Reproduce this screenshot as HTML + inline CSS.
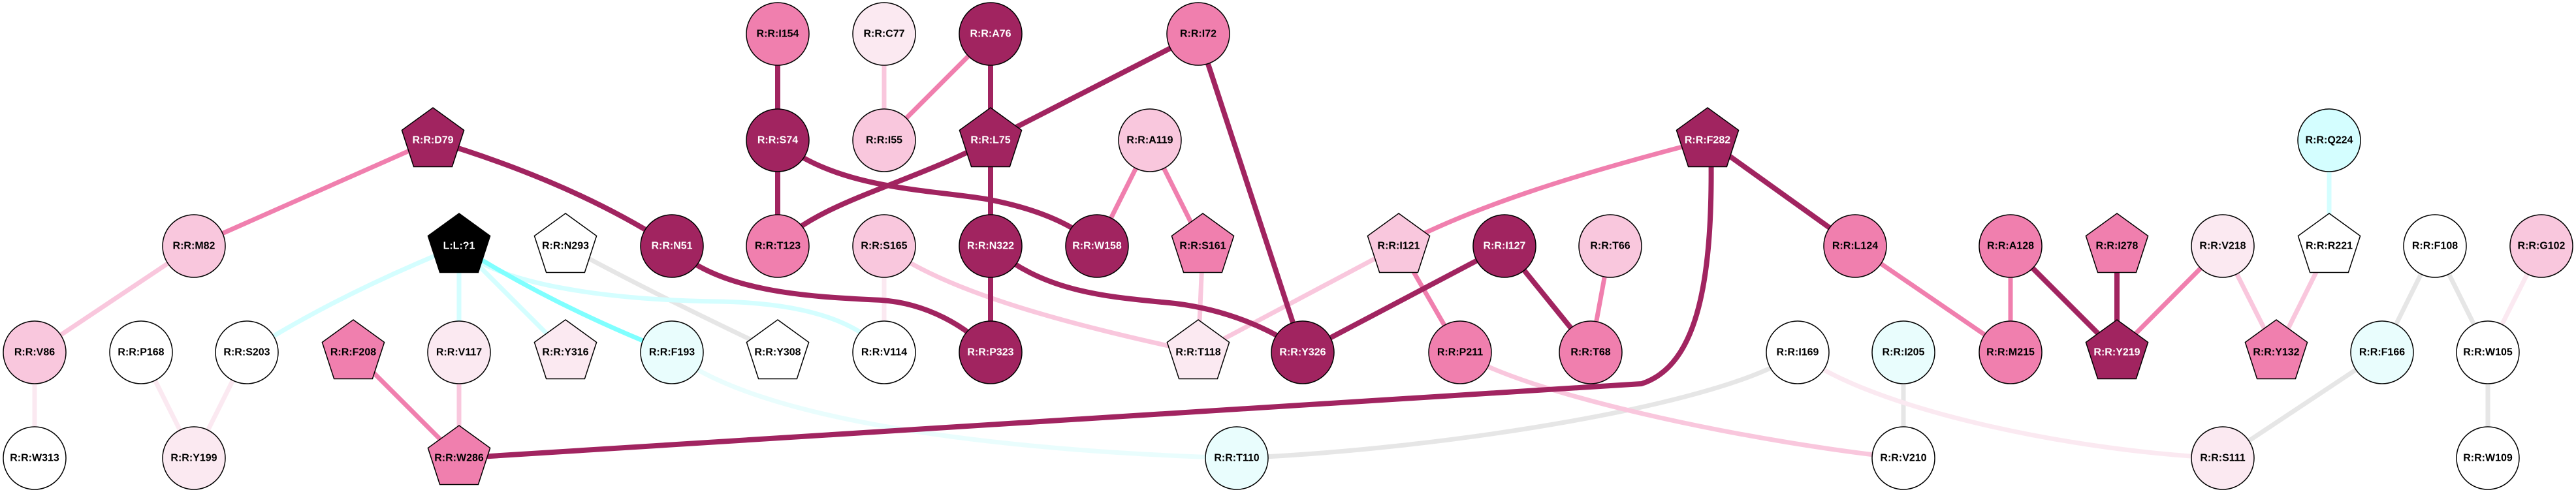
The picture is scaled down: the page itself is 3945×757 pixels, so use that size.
<!DOCTYPE html>
<html><head><meta charset="utf-8"><style>
html,body{margin:0;padding:0;background:#fff;}
svg{display:block;}
text{font-family:"Liberation Sans",Arial,sans-serif;font-weight:bold;font-size:16px;text-anchor:middle;dominant-baseline:central;}
</style></head><body>
<svg width="3945" height="757" viewBox="0 0 3945 757" xmlns="http://www.w3.org/2000/svg">
<g fill="none" stroke-linecap="butt">
<!-- gray -->
<g stroke="#e6e6e6" stroke-width="7">
<path d="M866,377 Q1000,450 1191,540"/>
<path d="M2753,540 C2650,620 2200,690 1894,702"/>
<path d="M2915,540 L2915,702"/>
<path d="M3729,377 L3648,540"/>
<path d="M3729,377 L3810,540"/>
<path d="M3648,540 L3404,702"/>
<path d="M3810,540 L3810,702"/>
</g>
<!-- cyan -->
<g stroke="#d4feff" stroke-width="7">
<path d="M703,377 Q520,450 378,540"/>
<path d="M703,377 L703,540"/>
<path d="M703,377 L866,540"/>
<path d="M703,377 C760,440 950,460 1100,462 Q1290,465 1354,540"/>
<path d="M3567,215 L3567,377"/>
</g>
<path d="M1029,540 C1150,640 1500,690 1894,702" stroke="#e9fdfd" stroke-width="7"/>
<path d="M703,377 Q850,470 1029,540" stroke="#80ffff" stroke-width="7"/>
<!-- very light pink -->
<g stroke="#fbe9f1" stroke-width="7">
<path d="M53,540 L53,702"/>
<path d="M216,540 L297,702"/>
<path d="M378,540 L297,702"/>
<path d="M1354,377 L1354,540"/>
<path d="M2753,540 C2850,620 3150,690 3404,702"/>
<path d="M3892,377 L3810,540"/>
</g>
<!-- light pink -->
<g stroke="#f9c7dd" stroke-width="7">
<path d="M297,377 L53,540"/>
<path d="M703,540 L703,702"/>
<path d="M1354,52 L1354,215"/>
<path d="M1354,377 C1450,450 1650,500 1835,540"/>
<path d="M1842,377 L1835,540"/>
<path d="M1835,540 L2142,377"/>
<path d="M2236,540 C2350,610 2700,680 2915,702"/>
<path d="M3404,377 L3486,540"/>
<path d="M3567,377 L3486,540"/>
</g>
<!-- medium pink -->
<g stroke="#f07fae" stroke-width="7">
<path d="M663,215 L297,377"/>
<path d="M541,540 L703,702"/>
<path d="M1517,52 L1354,215"/>
<path d="M1761,215 L1680,377"/>
<path d="M1761,215 L1842,377"/>
<path d="M2615,215 C2400,270 2250,320 2142,377"/>
<path d="M2142,377 L2236,540"/>
<path d="M2466,377 L2436,540"/>
<path d="M2841,377 L3079,540"/>
<path d="M3079,377 L3079,540"/>
<path d="M3404,377 L3242,540"/>
</g>
<!-- dark -->
<g stroke="#a12460" stroke-width="8">
<path d="M663,215 Q880,280 1029,377"/>
<path d="M703,702 L2514,588 C2600,560 2625,430 2620,215"/>
<path d="M1191,52 L1191,215"/>
<path d="M1517,52 L1517,215"/>
<path d="M1835,52 L1517,215"/>
<path d="M1835,52 L1995,540"/>
<path d="M1191,215 L1191,377"/>
<path d="M1191,215 C1280,290 1420,290 1510,305 C1580,318 1640,340 1680,377"/>
<path d="M1517,215 C1400,280 1250,310 1191,377"/>
<path d="M1517,215 L1517,540"/>
<path d="M1029,377 C1100,450 1250,455 1350,460 C1420,465 1480,500 1517,540"/>
<path d="M1517,377 C1600,450 1700,455 1800,465 C1880,475 1950,505 1995,540"/>
<path d="M2304,377 L1995,540"/>
<path d="M2304,377 L2436,540"/>
<path d="M2615,215 L2841,377"/>
<path d="M3079,377 L3242,540"/>
<path d="M3242,377 L3242,540"/>
</g>
</g>
<!-- nodes -->
<g stroke="#000" stroke-width="1.5">
<!-- circles -->
<circle cx="1191" cy="52" r="48" fill="#f07fae"/>
<circle cx="1354" cy="52" r="48" fill="#fbe9f1"/>
<circle cx="1517" cy="52" r="48" fill="#a12460"/>
<circle cx="1835" cy="52" r="48" fill="#f07fae"/>
<circle cx="1191" cy="215" r="48" fill="#a12460"/>
<circle cx="1354" cy="215" r="48" fill="#f9c7dd"/>
<circle cx="1761" cy="215" r="48" fill="#f9c7dd"/>
<circle cx="3567" cy="215" r="48" fill="#d4feff"/>
<circle cx="297" cy="377" r="48" fill="#f9c7dd"/>
<circle cx="1029" cy="377" r="48" fill="#a12460"/>
<circle cx="1191" cy="377" r="48" fill="#f07fae"/>
<circle cx="1354" cy="377" r="48" fill="#f9c7dd"/>
<circle cx="1517" cy="377" r="48" fill="#a12460"/>
<circle cx="1680" cy="377" r="48" fill="#a12460"/>
<circle cx="2304" cy="377" r="48" fill="#a12460"/>
<circle cx="2466" cy="377" r="48" fill="#f9c7dd"/>
<circle cx="2841" cy="377" r="48" fill="#f07fae"/>
<circle cx="3079" cy="377" r="48" fill="#f07fae"/>
<circle cx="3404" cy="377" r="48" fill="#fbe9f1"/>
<circle cx="3729" cy="377" r="48" fill="#fff"/>
<circle cx="3892" cy="377" r="48" fill="#f9c7dd"/>
<circle cx="53" cy="540" r="48" fill="#f9c7dd"/>
<circle cx="216" cy="540" r="48" fill="#fff"/>
<circle cx="378" cy="540" r="48" fill="#fff"/>
<circle cx="703" cy="540" r="48" fill="#fbe9f1"/>
<circle cx="1029" cy="540" r="48" fill="#e9fdfd"/>
<circle cx="1354" cy="540" r="48" fill="#fff"/>
<circle cx="1517" cy="540" r="48" fill="#a12460"/>
<circle cx="1995" cy="540" r="48" fill="#a12460"/>
<circle cx="2236" cy="540" r="48" fill="#f07fae"/>
<circle cx="2436" cy="540" r="48" fill="#f07fae"/>
<circle cx="2753" cy="540" r="48" fill="#fff"/>
<circle cx="2915" cy="540" r="48" fill="#e9fdfd"/>
<circle cx="3079" cy="540" r="48" fill="#f07fae"/>
<circle cx="3648" cy="540" r="48" fill="#e9fdfd"/>
<circle cx="3810" cy="540" r="48" fill="#fff"/>
<circle cx="53" cy="702" r="48" fill="#fff"/>
<circle cx="297" cy="702" r="48" fill="#fbe9f1"/>
<circle cx="1894" cy="702" r="48" fill="#e9fdfd"/>
<circle cx="2915" cy="702" r="48" fill="#fff"/>
<circle cx="3404" cy="702" r="48" fill="#fbe9f1"/>
<circle cx="3810" cy="702" r="48" fill="#fff"/>
<!-- pentagons -->
<polygon transform="translate(663,215)" points="0,-50 47.6,-15.5 29.4,40.5 -29.4,40.5 -47.6,-15.5" fill="#a12460"/>
<polygon transform="translate(1517,215)" points="0,-50 47.6,-15.5 29.4,40.5 -29.4,40.5 -47.6,-15.5" fill="#a12460"/>
<polygon transform="translate(2615,215)" points="0,-50 47.6,-15.5 29.4,40.5 -29.4,40.5 -47.6,-15.5" fill="#a12460"/>
<polygon transform="translate(703,377)" points="0,-50 47.6,-15.5 29.4,40.5 -29.4,40.5 -47.6,-15.5" fill="#000"/>
<polygon transform="translate(866,377)" points="0,-50 47.6,-15.5 29.4,40.5 -29.4,40.5 -47.6,-15.5" fill="#fff"/>
<polygon transform="translate(1842,377)" points="0,-50 47.6,-15.5 29.4,40.5 -29.4,40.5 -47.6,-15.5" fill="#f07fae"/>
<polygon transform="translate(2142,377)" points="0,-50 47.6,-15.5 29.4,40.5 -29.4,40.5 -47.6,-15.5" fill="#f9c7dd"/>
<polygon transform="translate(3242,377)" points="0,-50 47.6,-15.5 29.4,40.5 -29.4,40.5 -47.6,-15.5" fill="#f07fae"/>
<polygon transform="translate(3567,377)" points="0,-50 47.6,-15.5 29.4,40.5 -29.4,40.5 -47.6,-15.5" fill="#fff"/>
<polygon transform="translate(541,540)" points="0,-50 47.6,-15.5 29.4,40.5 -29.4,40.5 -47.6,-15.5" fill="#f07fae"/>
<polygon transform="translate(866,540)" points="0,-50 47.6,-15.5 29.4,40.5 -29.4,40.5 -47.6,-15.5" fill="#fbe9f1"/>
<polygon transform="translate(1191,540)" points="0,-50 47.6,-15.5 29.4,40.5 -29.4,40.5 -47.6,-15.5" fill="#fff"/>
<polygon transform="translate(1835,540)" points="0,-50 47.6,-15.5 29.4,40.5 -29.4,40.5 -47.6,-15.5" fill="#fbe9f1"/>
<polygon transform="translate(3242,540)" points="0,-50 47.6,-15.5 29.4,40.5 -29.4,40.5 -47.6,-15.5" fill="#a12460"/>
<polygon transform="translate(3486,540)" points="0,-50 47.6,-15.5 29.4,40.5 -29.4,40.5 -47.6,-15.5" fill="#f07fae"/>
<polygon transform="translate(703,702)" points="0,-50 47.6,-15.5 29.4,40.5 -29.4,40.5 -47.6,-15.5" fill="#f07fae"/>
</g>
<!-- labels -->
<g fill="#000">
<text x="1191" y="52">R:R:I154</text>
<text x="1354" y="52">R:R:C77</text>
<text x="1835" y="52">R:R:I72</text>
<text x="1354" y="215">R:R:I55</text>
<text x="1761" y="215">R:R:A119</text>
<text x="3567" y="215">R:R:Q224</text>
<text x="297" y="377">R:R:M82</text>
<text x="866" y="377">R:R:N293</text>
<text x="1191" y="377">R:R:T123</text>
<text x="1354" y="377">R:R:S165</text>
<text x="1842" y="377">R:R:S161</text>
<text x="2142" y="377">R:R:I121</text>
<text x="2466" y="377">R:R:T66</text>
<text x="2841" y="377">R:R:L124</text>
<text x="3079" y="377">R:R:A128</text>
<text x="3242" y="377">R:R:I278</text>
<text x="3404" y="377">R:R:V218</text>
<text x="3567" y="377">R:R:R221</text>
<text x="3729" y="377">R:R:F108</text>
<text x="3892" y="377">R:R:G102</text>
<text x="53" y="540">R:R:V86</text>
<text x="216" y="540">R:R:P168</text>
<text x="378" y="540">R:R:S203</text>
<text x="541" y="540">R:R:F208</text>
<text x="703" y="540">R:R:V117</text>
<text x="866" y="540">R:R:Y316</text>
<text x="1029" y="540">R:R:F193</text>
<text x="1191" y="540">R:R:Y308</text>
<text x="1354" y="540">R:R:V114</text>
<text x="1835" y="540">R:R:T118</text>
<text x="2236" y="540">R:R:P211</text>
<text x="2436" y="540">R:R:T68</text>
<text x="2753" y="540">R:R:I169</text>
<text x="2915" y="540">R:R:I205</text>
<text x="3079" y="540">R:R:M215</text>
<text x="3486" y="540">R:R:Y132</text>
<text x="3648" y="540">R:R:F166</text>
<text x="3810" y="540">R:R:W105</text>
<text x="53" y="702">R:R:W313</text>
<text x="297" y="702">R:R:Y199</text>
<text x="703" y="702">R:R:W286</text>
<text x="1894" y="702">R:R:T110</text>
<text x="2915" y="702">R:R:V210</text>
<text x="3404" y="702">R:R:S111</text>
<text x="3810" y="702">R:R:W109</text>
</g>
<g fill="#fff">
<text x="1517" y="52">R:R:A76</text>
<text x="663" y="215">R:R:D79</text>
<text x="1191" y="215">R:R:S74</text>
<text x="1517" y="215">R:R:L75</text>
<text x="2615" y="215">R:R:F282</text>
<text x="703" y="377">L:L:?1</text>
<text x="1029" y="377">R:R:N51</text>
<text x="1517" y="377">R:R:N322</text>
<text x="1680" y="377">R:R:W158</text>
<text x="2304" y="377">R:R:I127</text>
<text x="1517" y="540">R:R:P323</text>
<text x="1995" y="540">R:R:Y326</text>
<text x="3242" y="540">R:R:Y219</text>
</g>
</svg>
</body></html>
